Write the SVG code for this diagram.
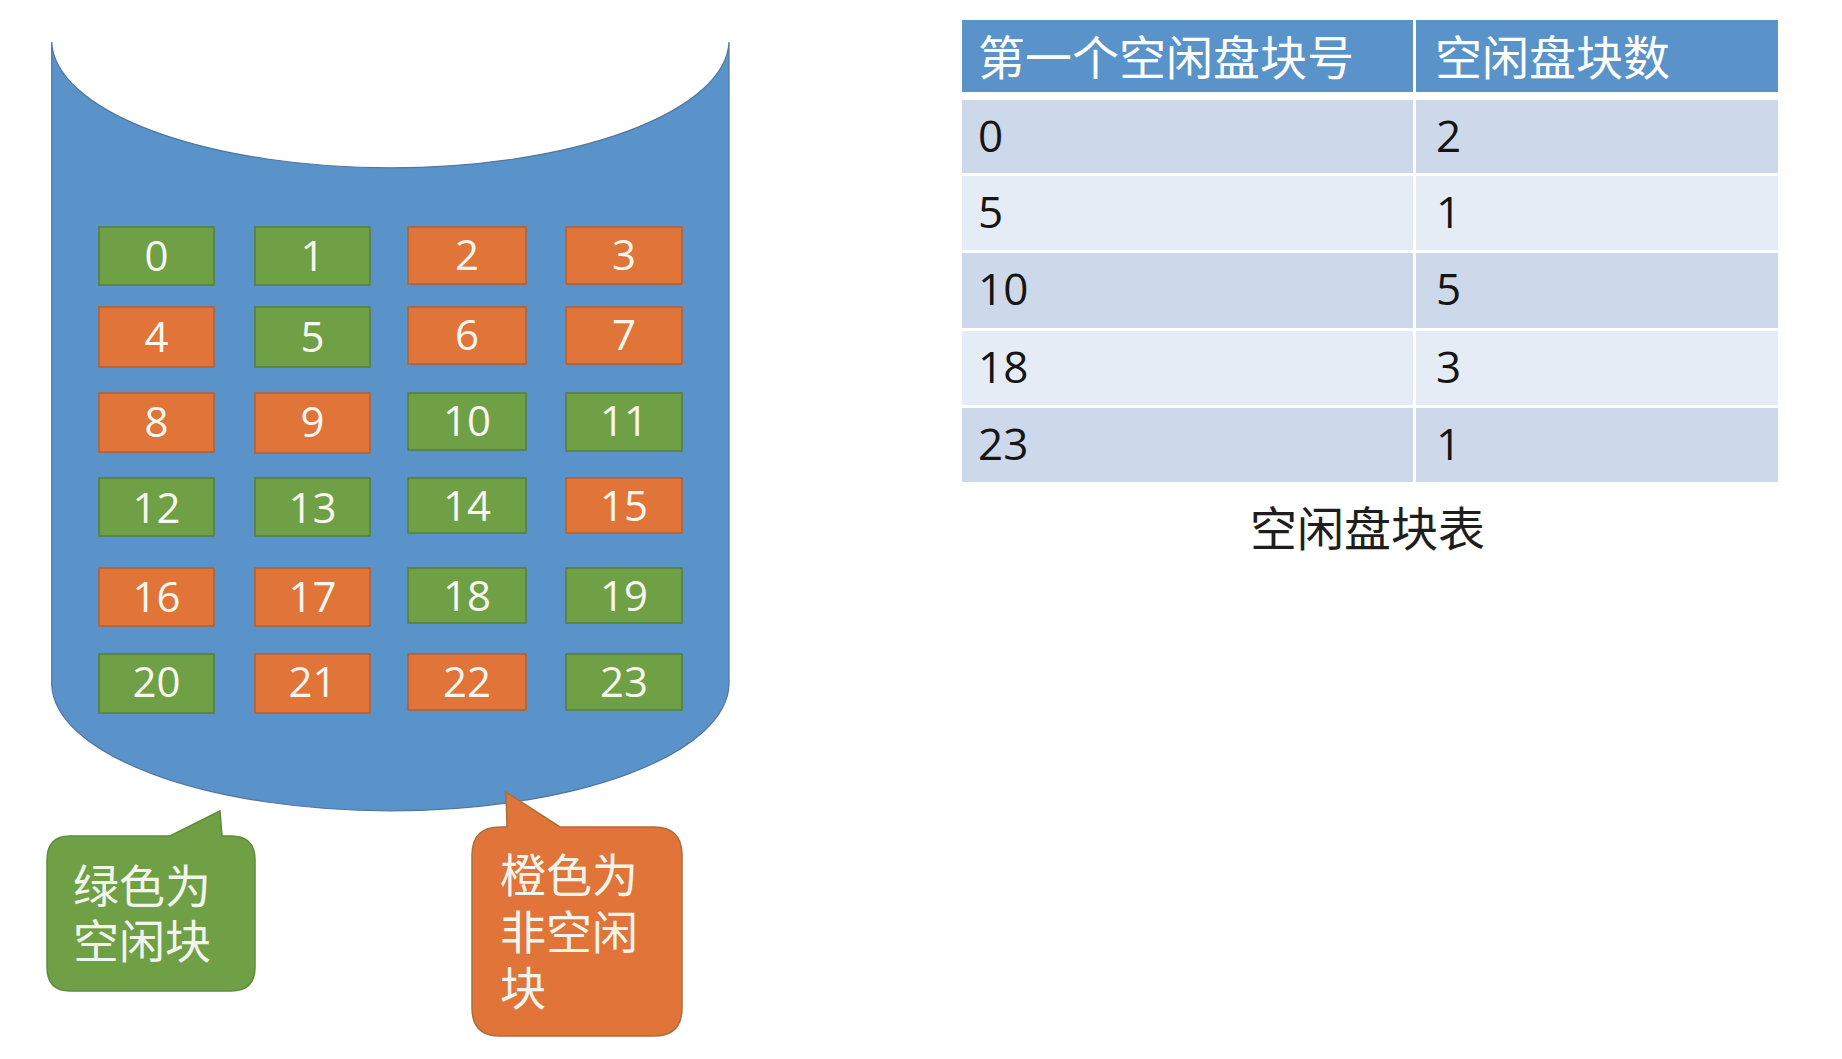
<svg xmlns="http://www.w3.org/2000/svg" width="1842" height="1059" viewBox="0 0 1842 1059">
<style>
.blk text{font-family:"Open Sans","Noto Sans",sans-serif;font-size:42px;fill:#F7F7EE;text-anchor:middle}
.g rect{fill:#70A046;stroke:#557F35;stroke-width:1.5}
.o rect{fill:#E07439;stroke:#B85E2C;stroke-width:1.5}
.cjk{font-family:"Noto Sans CJK SC","Noto Sans CJK JP",sans-serif}
.hd{font-size:47px;fill:#FFFFFF}
.num{font-family:"Open Sans","Noto Sans",sans-serif;font-size:44px;fill:#151515}
.callout{font-size:46px;fill:#F2F5EC}
</style>
<rect x="0" y="0" width="1842" height="1059" fill="#FFFFFF"/>
<g id="disk">
<path d="M51.7,42 L51.7,685 A338.7,128 0 0 0 729,685 L729,42 A338.7,128 0 0 1 51.7,42 Z" fill="#5A93C9" stroke="#4F76A0" stroke-width="1.2"/>
</g>
<g id="blocks" class="blk">
<g id="b0" class="g"><rect x="99" y="227" width="115" height="58"/><text x="156.5" y="271">0</text></g>
<g id="b1" class="g"><rect x="255" y="227" width="115" height="58"/><text x="312.5" y="271">1</text></g>
<g id="b2" class="o"><rect x="408" y="227" width="118" height="57"/><text x="467" y="270">2</text></g>
<g id="b3" class="o"><rect x="566" y="227" width="116" height="57"/><text x="624" y="270">3</text></g>
<g id="b4" class="o"><rect x="99" y="307" width="115" height="60"/><text x="156.5" y="352">4</text></g>
<g id="b5" class="g"><rect x="255" y="307" width="115" height="60"/><text x="312.5" y="352">5</text></g>
<g id="b6" class="o"><rect x="408" y="307" width="118" height="57"/><text x="467" y="350">6</text></g>
<g id="b7" class="o"><rect x="566" y="307" width="116" height="57"/><text x="624" y="350">7</text></g>
<g id="b8" class="o"><rect x="99" y="393" width="115" height="59"/><text x="156.5" y="437">8</text></g>
<g id="b9" class="o"><rect x="255" y="393" width="115" height="60"/><text x="312.5" y="437">9</text></g>
<g id="b10" class="g"><rect x="408" y="393" width="118" height="57"/><text x="467" y="436">10</text></g>
<g id="b11" class="g"><rect x="566" y="393" width="116" height="58"/><text x="624" y="436">11</text></g>
<g id="b12" class="g"><rect x="99" y="478" width="115" height="58"/><text x="156.5" y="523">12</text></g>
<g id="b13" class="g"><rect x="255" y="478" width="115" height="58"/><text x="312.5" y="523">13</text></g>
<g id="b14" class="g"><rect x="408" y="478" width="118" height="55"/><text x="467" y="521">14</text></g>
<g id="b15" class="o"><rect x="566" y="478" width="116" height="55"/><text x="624" y="521">15</text></g>
<g id="b16" class="o"><rect x="99" y="568" width="115" height="58"/><text x="156.5" y="612">16</text></g>
<g id="b17" class="o"><rect x="255" y="568" width="115" height="58"/><text x="312.5" y="612">17</text></g>
<g id="b18" class="g"><rect x="408" y="568" width="118" height="55"/><text x="467" y="611">18</text></g>
<g id="b19" class="g"><rect x="566" y="568" width="116" height="55"/><text x="624" y="611">19</text></g>
<g id="b20" class="g"><rect x="99" y="654" width="115" height="59"/><text x="156.5" y="697">20</text></g>
<g id="b21" class="o"><rect x="255" y="654" width="115" height="59"/><text x="312.5" y="697">21</text></g>
<g id="b22" class="o"><rect x="408" y="654" width="118" height="56"/><text x="467" y="697">22</text></g>
<g id="b23" class="g"><rect x="566" y="654" width="116" height="56"/><text x="624" y="697">23</text></g>
</g>
<g id="callout-green">
<path d="M70,836 L170,836 L220,811 L222,836 L231,836 Q255,836 255,860 L255,967 Q255,991 231,991 L70,991 Q47,991 47,967 L47,860 Q47,836 70,836 Z" fill="#70A046" stroke="#5E8A3C" stroke-width="1.5"/>
<text class="cjk callout" x="73" y="903">绿色为<tspan x="73" dy="55">空闲块</tspan></text>
</g>
<g id="callout-orange">
<path d="M500,827 L507,827 L506,792 L560,827 L654,827 Q682,827 682,855 L682,1008 Q682,1036 654,1036 L500,1036 Q472,1036 472,1008 L472,855 Q472,827 500,827 Z" fill="#E07439" stroke="#A8703A" stroke-width="1.5"/>
<text class="cjk callout" x="500" y="892">橙色为<tspan x="500" dy="57">非空闲</tspan><tspan x="500" dy="56">块</tspan></text>
</g>
<g id="table">
<rect x="962" y="20" width="816" height="72" fill="#5A93C9"/>
<rect x="962" y="100" width="816" height="73" fill="#CDD9EA"/>
<rect x="962" y="176" width="816" height="74" fill="#E6ECF5"/>
<rect x="962" y="253" width="816" height="75" fill="#CDD9EA"/>
<rect x="962" y="331" width="816" height="74" fill="#E6ECF5"/>
<rect x="962" y="408" width="816" height="74" fill="#CDD9EA"/>
<line x1="1414.5" y1="20" x2="1414.5" y2="482" stroke="#FFFFFF" stroke-width="3"/>
<text class="cjk hd" x="978" y="75">第一个空闲盘块号</text>
<text class="cjk hd" x="1435" y="75">空闲盘块数</text>
<text class="num" x="978" y="152">0</text>
<text class="num" x="1436" y="152">2</text>
<text class="num" x="978" y="228">5</text>
<text class="num" x="1436" y="228">1</text>
<text class="num" x="978" y="305">10</text>
<text class="num" x="1436" y="305">5</text>
<text class="num" x="978" y="383">18</text>
<text class="num" x="1436" y="383">3</text>
<text class="num" x="978" y="460">23</text>
<text class="num" x="1436" y="460">1</text>
<text class="cjk" x="1250" y="546" font-size="47" fill="#1E1E1E">空闲盘块表</text>
</g>
</svg>
